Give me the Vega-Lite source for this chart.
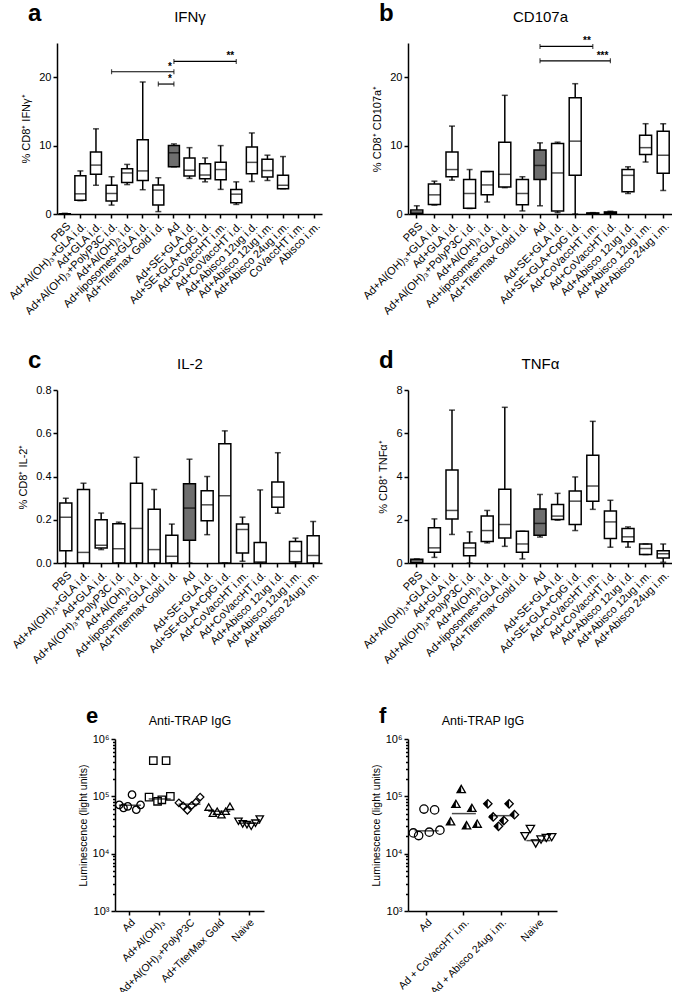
{
"$schema": "https://vega.github.io/schema/vega-lite/v6.json",
"background": "white",
"padding": {"left": 6, "top": 2, "right": 0, "bottom": 0},
"config": {
 "font": "Liberation Sans",
 "view": {"stroke": null},
 "axis": {"domainColor": "black", "domainWidth": 1.5, "tickColor": "black", "tickWidth": 1.5, "tickSize": 4, "labelColor": "black", "titleColor": "black", "labelFont": "Liberation Sans", "titleFont": "Liberation Sans", "grid": false, "labelFontSize": 11, "titleFontSize": 11, "titleFontWeight": "normal", "labelPadding": 2},
 "title": {"font": "Liberation Sans", "fontWeight": "bold", "fontSize": 24, "color": "black", "anchor": "start", "frame": "group", "dx": -29, "offset": -17}
},
"datasets": {
 "a": [
  {"cat": "PBS", "min": 0, "q1": 0, "median": 0, "q3": 0.05, "max": 0.1},
  {"cat": "Ad+Al(OH)₃+GLA i.d.", "min": 1.95, "q1": 2.0, "median": 2.95, "q3": 5.6, "max": 6.3},
  {"cat": "Ad+GLA i.d.", "min": 4.2, "q1": 5.8, "median": 7.15, "q3": 9.05, "max": 12.45},
  {"cat": "Ad+Al(OH)₃+PolyP3C i.d.", "min": 1.3, "q1": 1.9, "median": 3.0, "q3": 4.2, "max": 5.45},
  {"cat": "Ad+Al(OH)₃ i.d.", "min": 4.3, "q1": 4.6, "median": 6.0, "q3": 6.6, "max": 7.25},
  {"cat": "Ad+liposomes+GLA i.d.", "min": 3.55, "q1": 4.9, "median": 6.3, "q3": 10.85, "max": 19.3},
  {"cat": "Ad+Titermax Gold i.d.", "min": 0.35, "q1": 1.3, "median": 3.5, "q3": 4.25, "max": 5.3},
  {"cat": "Ad", "min": 6.9, "q1": 6.9, "median": 8.95, "q3": 10.0, "max": 10.25},
  {"cat": "Ad+SE+GLA i.d.", "min": 5.2, "q1": 5.55, "median": 6.4, "q3": 8.2, "max": 9.7},
  {"cat": "Ad+SE+GLA+CpG i.d.", "min": 4.7, "q1": 5.15, "median": 5.7, "q3": 7.35, "max": 8.2},
  {"cat": "Ad+CoVaccHT i.m.", "min": 3.6, "q1": 5.0, "median": 6.5, "q3": 7.55, "max": 10.0},
  {"cat": "Ad+CoVaccHT i.d.", "min": 1.4, "q1": 1.65, "median": 2.9, "q3": 3.6, "max": 4.7},
  {"cat": "Ad+Abisco 12ug i.d.", "min": 4.75, "q1": 5.9, "median": 7.55, "q3": 9.8, "max": 11.85},
  {"cat": "Ad+Abisco 12ug i.m.", "min": 4.9, "q1": 5.4, "median": 6.35, "q3": 8.0, "max": 8.6},
  {"cat": "Ad+Abisco 24ug i.m.", "min": 3.7, "q1": 3.7, "median": 4.2, "q3": 5.65, "max": 8.4}
 ],
 "sig_a": [
  {"from": "Ad+Al(OH)₃+PolyP3C i.d.", "to": "Ad", "y": 20.8, "s": "*"},
  {"from": "Ad+Titermax Gold i.d.", "to": "Ad", "y": 19.0, "s": "*"},
  {"from": "Ad", "to": "Ad+CoVaccHT i.d.", "y": 22.3, "s": "**"}
 ],
 "b": [
  {"cat": "PBS", "min": 0, "q1": 0.1, "median": 0.3, "q3": 0.6, "max": 1.2},
  {"cat": "Ad+Al(OH)₃+GLA i.d.", "min": 1.3, "q1": 1.4, "median": 2.8, "q3": 4.4, "max": 4.8},
  {"cat": "Ad+GLA i.d.", "min": 4.95, "q1": 5.45, "median": 6.5, "q3": 9.05, "max": 12.85},
  {"cat": "Ad+Al(OH)₃+PolyP3C i.d.", "min": 0.8, "q1": 0.85, "median": 3.0, "q3": 5.05, "max": 6.5},
  {"cat": "Ad+Al(OH)₃ i.d.", "min": 1.75, "q1": 2.8, "median": 4.25, "q3": 6.2, "max": 6.2},
  {"cat": "Ad+liposomes+GLA i.d.", "min": 3.85, "q1": 3.95, "median": 5.8, "q3": 10.5, "max": 17.35},
  {"cat": "Ad+Titermax Gold i.d.", "min": 0.45, "q1": 1.35, "median": 3.0, "q3": 5.05, "max": 5.45},
  {"cat": "Ad", "min": 1.2, "q1": 5.05, "median": 7.1, "q3": 9.35, "max": 10.4},
  {"cat": "Ad+SE+GLA i.d.", "min": 0.2, "q1": 0.45, "median": 6.0, "q3": 10.3, "max": 10.5},
  {"cat": "Ad+SE+GLA+CpG i.d.", "min": 0, "q1": 5.65, "median": 10.65, "q3": 17.0, "max": 19.05},
  {"cat": "Ad+CoVaccHT i.m.", "min": 0, "q1": 0.05, "median": 0.1, "q3": 0.15, "max": 0.2},
  {"cat": "Ad+CoVaccHT i.d.", "min": 0, "q1": 0.1, "median": 0.2, "q3": 0.3, "max": 0.4},
  {"cat": "Ad+Abisco 12ug i.d.", "min": 3.0, "q1": 3.25, "median": 5.65, "q3": 6.5, "max": 6.9},
  {"cat": "Ad+Abisco 12ug i.m.", "min": 7.6, "q1": 8.7, "median": 9.7, "q3": 11.5, "max": 13.2},
  {"cat": "Ad+Abisco 24ug i.m.", "min": 3.45, "q1": 5.95, "median": 8.6, "q3": 12.1, "max": 13.2}
 ],
 "sig_b": [
  {"from": "Ad", "to": "Ad+CoVaccHT i.m.", "y": 24.5, "s": "**"},
  {"from": "Ad", "to": "Ad+CoVaccHT i.d.", "y": 22.4, "s": "***"}
 ],
 "c": [
  {"cat": "PBS", "min": 0, "q1": 0.057, "median": 0.211, "q3": 0.277, "max": 0.30},
  {"cat": "Ad+Al(OH)₃+GLA i.d.", "min": 0, "q1": 0, "median": 0.049, "q3": 0.34, "max": 0.369},
  {"cat": "Ad+GLA i.d.", "min": 0.062, "q1": 0.069, "median": 0.082, "q3": 0.2, "max": 0.231},
  {"cat": "Ad+Al(OH)₃+PolyP3C i.d.", "min": 0, "q1": 0, "median": 0.066, "q3": 0.182, "max": 0.189},
  {"cat": "Ad+Al(OH)₃ i.d.", "min": 0, "q1": 0, "median": 0.16, "q3": 0.369, "max": 0.489},
  {"cat": "Ad+liposomes+GLA i.d.", "min": 0, "q1": 0, "median": 0.062, "q3": 0.249, "max": 0.34},
  {"cat": "Ad+Titermax Gold i.d.", "min": 0, "q1": 0, "median": 0.031, "q3": 0.128, "max": 0.18},
  {"cat": "Ad", "min": 0, "q1": 0.105, "median": 0.254, "q3": 0.366, "max": 0.48},
  {"cat": "Ad+SE+GLA i.d.", "min": 0.131, "q1": 0.195, "median": 0.269, "q3": 0.334, "max": 0.40},
  {"cat": "Ad+SE+GLA+CpG i.d.", "min": 0, "q1": 0, "median": 0.311, "q3": 0.551, "max": 0.611},
  {"cat": "Ad+CoVaccHT i.m.", "min": 0.008, "q1": 0.046, "median": 0.155, "q3": 0.18, "max": 0.212},
  {"cat": "Ad+CoVaccHT i.d.", "min": 0, "q1": 0, "median": 0.005, "q3": 0.095, "max": 0.338},
  {"cat": "Ad+Abisco 12ug i.d.", "min": 0.23, "q1": 0.258, "median": 0.305, "q3": 0.374, "max": 0.51},
  {"cat": "Ad+Abisco 12ug i.m.", "min": 0, "q1": 0.005, "median": 0.054, "q3": 0.1, "max": 0.115},
  {"cat": "Ad+Abisco 24ug i.m.", "min": 0, "q1": 0, "median": 0.035, "q3": 0.126, "max": 0.192}
 ],
 "d": [
  {"cat": "PBS", "min": 0, "q1": 0.02, "median": 0.1, "q3": 0.17, "max": 0.19},
  {"cat": "Ad+Al(OH)₃+GLA i.d.", "min": 0.26, "q1": 0.5, "median": 0.7, "q3": 1.63, "max": 2.04},
  {"cat": "Ad+GLA i.d.", "min": 1.32, "q1": 2.04, "median": 2.43, "q3": 4.3, "max": 7.07},
  {"cat": "Ad+Al(OH)₃+PolyP3C i.d.", "min": 0, "q1": 0.34, "median": 0.7, "q3": 0.93, "max": 1.44},
  {"cat": "Ad+Al(OH)₃ i.d.", "min": 0.93, "q1": 1.0, "median": 1.5, "q3": 2.17, "max": 2.43},
  {"cat": "Ad+liposomes+GLA i.d.", "min": 0.77, "q1": 1.16, "median": 1.78, "q3": 3.41, "max": 7.2},
  {"cat": "Ad+Titermax Gold i.d.", "min": 0.19, "q1": 0.5, "median": 0.88, "q3": 1.47, "max": 1.47},
  {"cat": "Ad", "min": 1.2, "q1": 1.28, "median": 1.83, "q3": 2.5, "max": 3.17},
  {"cat": "Ad+SE+GLA i.d.", "min": 1.98, "q1": 2.01, "median": 2.17, "q3": 2.71, "max": 3.22},
  {"cat": "Ad+SE+GLA+CpG i.d.", "min": 1.5, "q1": 1.78, "median": 2.86, "q3": 3.33, "max": 3.98},
  {"cat": "Ad+CoVaccHT i.m.", "min": 2.48, "q1": 2.86, "median": 3.56, "q3": 4.98, "max": 6.55},
  {"cat": "Ad+CoVaccHT i.d.", "min": 0.73, "q1": 1.13, "median": 1.9, "q3": 2.4, "max": 2.9},
  {"cat": "Ad+Abisco 12ug i.d.", "min": 0.73, "q1": 0.98, "median": 1.21, "q3": 1.6, "max": 1.67},
  {"cat": "Ad+Abisco 12ug i.m.", "min": 0.39, "q1": 0.39, "median": 0.67, "q3": 0.88, "max": 0.88},
  {"cat": "Ad+Abisco 24ug i.m.", "min": 0.03, "q1": 0.23, "median": 0.43, "q3": 0.57, "max": 0.88}
 ],
 "e": [
  {"grp": "Ad", "rep": 1, "v": 71000}, {"grp": "Ad", "rep": 2, "v": 63000}, {"grp": "Ad", "rep": 3, "v": 67000}, {"grp": "Ad", "rep": 4, "v": 107000}, {"grp": "Ad", "rep": 5, "v": 58500}, {"grp": "Ad", "rep": 6, "v": 71000},
  {"grp": "Ad+Al(OH)₃", "rep": 1, "v": 97000}, {"grp": "Ad+Al(OH)₃", "rep": 2, "v": 420000}, {"grp": "Ad+Al(OH)₃", "rep": 3, "v": 82000}, {"grp": "Ad+Al(OH)₃", "rep": 4, "v": 87000}, {"grp": "Ad+Al(OH)₃", "rep": 5, "v": 420000}, {"grp": "Ad+Al(OH)₃", "rep": 6, "v": 100000},
  {"grp": "Ad+Al(OH)₃+PolyP3C", "rep": 1, "v": 77000}, {"grp": "Ad+Al(OH)₃+PolyP3C", "rep": 2, "v": 68000}, {"grp": "Ad+Al(OH)₃+PolyP3C", "rep": 3, "v": 57000}, {"grp": "Ad+Al(OH)₃+PolyP3C", "rep": 4, "v": 69000}, {"grp": "Ad+Al(OH)₃+PolyP3C", "rep": 5, "v": 79000}, {"grp": "Ad+Al(OH)₃+PolyP3C", "rep": 6, "v": 97000},
  {"grp": "Ad+TiterMax Gold", "rep": 1, "v": 65000}, {"grp": "Ad+TiterMax Gold", "rep": 2, "v": 51000}, {"grp": "Ad+TiterMax Gold", "rep": 3, "v": 55000}, {"grp": "Ad+TiterMax Gold", "rep": 4, "v": 48000}, {"grp": "Ad+TiterMax Gold", "rep": 5, "v": 55000}, {"grp": "Ad+TiterMax Gold", "rep": 6, "v": 67000},
  {"grp": "Naive", "rep": 1, "v": 36700}, {"grp": "Naive", "rep": 2, "v": 33000}, {"grp": "Naive", "rep": 3, "v": 32000}, {"grp": "Naive", "rep": 4, "v": 30000}, {"grp": "Naive", "rep": 5, "v": 34000}, {"grp": "Naive", "rep": 6, "v": 40000}
 ],
 "e_m": [
  {"grp": "Ad", "v": 70000}, {"grp": "Ad+Al(OH)₃", "v": 90000}, {"grp": "Ad+Al(OH)₃+PolyP3C", "v": 73000}, {"grp": "Ad+TiterMax Gold", "v": 55000}, {"grp": "Naive", "v": 34000}
 ],
 "f": [
  {"grp": "Ad", "rep": 1, "v": 23000}, {"grp": "Ad", "rep": 2, "v": 20700}, {"grp": "Ad", "rep": 3, "v": 60000}, {"grp": "Ad", "rep": 4, "v": 23700}, {"grp": "Ad", "rep": 5, "v": 58000}, {"grp": "Ad", "rep": 6, "v": 25700},
  {"grp": "Ad + CoVaccHT i.m.", "rep": 1, "v": 36700}, {"grp": "Ad + CoVaccHT i.m.", "rep": 2, "v": 74000}, {"grp": "Ad + CoVaccHT i.m.", "rep": 3, "v": 134000}, {"grp": "Ad + CoVaccHT i.m.", "rep": 4, "v": 31300}, {"grp": "Ad + CoVaccHT i.m.", "rep": 5, "v": 63000}, {"grp": "Ad + CoVaccHT i.m.", "rep": 6, "v": 33400},
  {"grp": "Ad + Abisco 24ug i.m.", "rep": 1, "v": 74000}, {"grp": "Ad + Abisco 24ug i.m.", "rep": 2, "v": 43700}, {"grp": "Ad + Abisco 24ug i.m.", "rep": 3, "v": 30000}, {"grp": "Ad + Abisco 24ug i.m.", "rep": 4, "v": 37700}, {"grp": "Ad + Abisco 24ug i.m.", "rep": 5, "v": 74000}, {"grp": "Ad + Abisco 24ug i.m.", "rep": 6, "v": 47900},
  {"grp": "Naive", "rep": 1, "v": 20100}, {"grp": "Naive", "rep": 2, "v": 27000}, {"grp": "Naive", "rep": 3, "v": 15000}, {"grp": "Naive", "rep": 4, "v": 17600}, {"grp": "Naive", "rep": 5, "v": 18800}, {"grp": "Naive", "rep": 6, "v": 19400}
 ],
 "f_m": [
  {"grp": "Ad", "v": 25000}, {"grp": "Ad + CoVaccHT i.m.", "v": 50000}, {"grp": "Ad + Abisco 24ug i.m.", "v": 46000}, {"grp": "Naive", "v": 16900}
 ]
},
"columns": 2,
"center": true,
"bounds": "flush",
"spacing": {"row": 176, "column": 86},
"resolve": {"scale": {"shape": "independent", "xOffset": "independent"}},
"concat": [
   {"width": 265, "height": 171, "title": {"text": "a"},
    "resolve": {"axis": {"x": "independent"}},
    "layer": [
     {"data": {"name": "a"}, "mark": {"type": "rule", "color": "black", "strokeWidth": 1.5}, "encoding": {
       "x": {"field": "cat", "type": "nominal", "sort": null, "scale": {"domain": ["PBS", "Ad+Al(OH)₃+GLA i.d.", "Ad+GLA i.d.", "Ad+Al(OH)₃+PolyP3C i.d.", "Ad+Al(OH)₃ i.d.", "Ad+liposomes+GLA i.d.", "Ad+Titermax Gold i.d.", "Ad", "Ad+SE+GLA i.d.", "Ad+SE+GLA+CpG i.d.", "Ad+CoVaccHT i.m.", "Ad+CoVaccHT i.d.", "Ad+Abisco 12ug i.d.", "Ad+Abisco 12ug i.m.", "Ad+Abisco 24ug i.m.", "CoVaccHT i.m.", "Abisco i.m."], "paddingInner": 0, "paddingOuter": 0}, "axis": {"labelAngle": -45, "title": null}},
       "y": {"field": "min", "type": "quantitative", "scale": {"domain": [0, 25], "nice": false}, "axis": {"values": [0, 5, 10, 15, 20, 25], "title": "% CD8⁺ IFNγ⁺", "titlePadding": 7}}, "y2": {"field": "max"}}},
     {"data": {"name": "a"}, "mark": {"type": "bar", "size": 11, "stroke": "black", "strokeWidth": 1.5}, "encoding": {"x": {"field": "cat", "type": "nominal", "axis": null}, "y": {"field": "q1", "type": "quantitative", "title": "% CD8⁺ IFNγ⁺"}, "y2": {"field": "q3"}, "fill": {"condition": {"test": "datum.cat === 'Ad'", "value": "#6e6e6e"}, "value": "white"}}},
     {"data": {"name": "a"}, "mark": {"type": "tick", "size": 11, "thickness": 1.5, "color": "black"}, "encoding": {"x": {"field": "cat", "type": "nominal", "axis": {"orient": "top", "title": "IFNγ", "labels": false, "ticks": false, "domain": false, "titleFontSize": 15, "titlePadding": 19}}, "y": {"field": "median", "type": "quantitative", "title": "% CD8⁺ IFNγ⁺"}}},
     {"data": {"name": "a"}, "mark": {"type": "tick", "size": 6, "thickness": 1.5, "color": "black"}, "encoding": {"x": {"field": "cat", "type": "nominal", "axis": null}, "y": {"field": "min", "type": "quantitative", "title": "% CD8⁺ IFNγ⁺"}}},
     {"data": {"name": "a"}, "mark": {"type": "tick", "size": 6, "thickness": 1.5, "color": "black"}, "encoding": {"x": {"field": "cat", "type": "nominal", "axis": null}, "y": {"field": "max", "type": "quantitative", "title": "% CD8⁺ IFNγ⁺"}}},
     {"data": {"name": "sig_a"}, "mark": {"type": "rule", "color": "black", "strokeWidth": 1.2}, "encoding": {"x": {"field": "from", "type": "nominal", "axis": null}, "x2": {"field": "to"}, "y": {"field": "y", "type": "quantitative", "title": "% CD8⁺ IFNγ⁺"}}},
     {"data": {"name": "sig_a"}, "mark": {"type": "tick", "orient": "vertical", "size": 5, "thickness": 1.2, "color": "black"}, "encoding": {"x": {"field": "from", "type": "nominal", "axis": null}, "y": {"field": "y", "type": "quantitative", "title": "% CD8⁺ IFNγ⁺"}}},
     {"data": {"name": "sig_a"}, "mark": {"type": "tick", "orient": "vertical", "size": 5, "thickness": 1.2, "color": "black"}, "encoding": {"x": {"field": "to", "type": "nominal", "axis": null}, "y": {"field": "y", "type": "quantitative", "title": "% CD8⁺ IFNγ⁺"}}},
     {"data": {"name": "sig_a"}, "mark": {"type": "text", "align": "right", "baseline": "bottom", "dx": -2, "dy": 0, "fontSize": 10, "fontWeight": "bold", "fill": "black"}, "encoding": {"x": {"field": "to", "type": "nominal", "axis": null}, "y": {"field": "y", "type": "quantitative", "title": "% CD8⁺ IFNγ⁺"}, "text": {"field": "s"}, "color": {"value": "black"}}}
    ]},
   {"width": 264, "height": 171, "title": {"text": "b"},
    "resolve": {"axis": {"x": "independent"}},
    "layer": [
     {"data": {"name": "b"}, "mark": {"type": "rule", "color": "black", "strokeWidth": 1.5}, "encoding": {
       "x": {"field": "cat", "type": "nominal", "sort": null, "scale": {"domain": ["PBS", "Ad+Al(OH)₃+GLA i.d.", "Ad+GLA i.d.", "Ad+Al(OH)₃+PolyP3C i.d.", "Ad+Al(OH)₃ i.d.", "Ad+liposomes+GLA i.d.", "Ad+Titermax Gold i.d.", "Ad", "Ad+SE+GLA i.d.", "Ad+SE+GLA+CpG i.d.", "Ad+CoVaccHT i.m.", "Ad+CoVaccHT i.d.", "Ad+Abisco 12ug i.d.", "Ad+Abisco 12ug i.m.", "Ad+Abisco 24ug i.m."], "paddingInner": 0, "paddingOuter": 0}, "axis": {"labelAngle": -45, "title": null}},
       "y": {"field": "min", "type": "quantitative", "scale": {"domain": [0, 25], "nice": false}, "axis": {"values": [0, 5, 10, 15, 20, 25], "title": "% CD8⁺ CD107a⁺", "titlePadding": 7}}, "y2": {"field": "max"}}},
     {"data": {"name": "b"}, "mark": {"type": "bar", "size": 12, "stroke": "black", "strokeWidth": 1.5}, "encoding": {"x": {"field": "cat", "type": "nominal", "axis": null}, "y": {"field": "q1", "type": "quantitative", "title": "% CD8⁺ CD107a⁺"}, "y2": {"field": "q3"}, "fill": {"condition": {"test": "datum.cat === 'Ad'", "value": "#6e6e6e"}, "value": "white"}}},
     {"data": {"name": "b"}, "mark": {"type": "tick", "size": 12, "thickness": 1.5, "color": "black"}, "encoding": {"x": {"field": "cat", "type": "nominal", "axis": {"orient": "top", "title": "CD107a", "labels": false, "ticks": false, "domain": false, "titleFontSize": 15, "titlePadding": 19}}, "y": {"field": "median", "type": "quantitative", "title": "% CD8⁺ CD107a⁺"}}},
     {"data": {"name": "b"}, "mark": {"type": "tick", "size": 6, "thickness": 1.5, "color": "black"}, "encoding": {"x": {"field": "cat", "type": "nominal", "axis": null}, "y": {"field": "min", "type": "quantitative", "title": "% CD8⁺ CD107a⁺"}}},
     {"data": {"name": "b"}, "mark": {"type": "tick", "size": 6, "thickness": 1.5, "color": "black"}, "encoding": {"x": {"field": "cat", "type": "nominal", "axis": null}, "y": {"field": "max", "type": "quantitative", "title": "% CD8⁺ CD107a⁺"}}},
     {"data": {"name": "sig_b"}, "mark": {"type": "rule", "color": "black", "strokeWidth": 1.2}, "encoding": {"x": {"field": "from", "type": "nominal", "axis": null}, "x2": {"field": "to"}, "y": {"field": "y", "type": "quantitative", "title": "% CD8⁺ CD107a⁺"}}},
     {"data": {"name": "sig_b"}, "mark": {"type": "tick", "orient": "vertical", "size": 5, "thickness": 1.2, "color": "black"}, "encoding": {"x": {"field": "from", "type": "nominal", "axis": null}, "y": {"field": "y", "type": "quantitative", "title": "% CD8⁺ CD107a⁺"}}},
     {"data": {"name": "sig_b"}, "mark": {"type": "tick", "orient": "vertical", "size": 5, "thickness": 1.2, "color": "black"}, "encoding": {"x": {"field": "to", "type": "nominal", "axis": null}, "y": {"field": "y", "type": "quantitative", "title": "% CD8⁺ CD107a⁺"}}},
     {"data": {"name": "sig_b"}, "mark": {"type": "text", "align": "right", "baseline": "bottom", "dx": -2, "dy": 0, "fontSize": 10, "fontWeight": "bold", "fill": "black"}, "encoding": {"x": {"field": "to", "type": "nominal", "axis": null}, "y": {"field": "y", "type": "quantitative", "title": "% CD8⁺ CD107a⁺"}, "text": {"field": "s"}, "color": {"value": "black"}}}
    ]},
   {"width": 265, "height": 173, "title": {"text": "c"},
    "data": {"name": "c"},
    "resolve": {"axis": {"x": "independent"}},
    "layer": [
     {"mark": {"type": "rule", "color": "black", "strokeWidth": 1.5}, "encoding": {
       "x": {"field": "cat", "type": "nominal", "sort": null, "scale": {"domain": ["PBS", "Ad+Al(OH)₃+GLA i.d.", "Ad+GLA i.d.", "Ad+Al(OH)₃+PolyP3C i.d.", "Ad+Al(OH)₃ i.d.", "Ad+liposomes+GLA i.d.", "Ad+Titermax Gold i.d.", "Ad", "Ad+SE+GLA i.d.", "Ad+SE+GLA+CpG i.d.", "Ad+CoVaccHT i.m.", "Ad+CoVaccHT i.d.", "Ad+Abisco 12ug i.d.", "Ad+Abisco 12ug i.m.", "Ad+Abisco 24ug i.m."], "paddingInner": 0, "paddingOuter": 0}, "axis": {"labelAngle": -45, "title": null}},
       "y": {"field": "min", "type": "quantitative", "scale": {"domain": [0, 0.8], "nice": false}, "axis": {"values": [0, 0.2, 0.4, 0.6, 0.8], "format": ".1f", "title": "% CD8⁺ IL-2⁺", "titlePadding": 7}}, "y2": {"field": "max"}}},
     {"mark": {"type": "bar", "size": 12, "stroke": "black", "strokeWidth": 1.5}, "encoding": {"x": {"field": "cat", "type": "nominal", "axis": null}, "y": {"field": "q1", "type": "quantitative", "title": "% CD8⁺ IL-2⁺"}, "y2": {"field": "q3"}, "fill": {"condition": {"test": "datum.cat === 'Ad'", "value": "#6e6e6e"}, "value": "white"}}},
     {"mark": {"type": "tick", "size": 12, "thickness": 1.5, "color": "black"}, "encoding": {"x": {"field": "cat", "type": "nominal", "axis": {"orient": "top", "title": "IL-2", "labels": false, "ticks": false, "domain": false, "titleFontSize": 15, "titlePadding": 19}}, "y": {"field": "median", "type": "quantitative", "title": "% CD8⁺ IL-2⁺"}}},
     {"mark": {"type": "tick", "size": 6, "thickness": 1.5, "color": "black"}, "encoding": {"x": {"field": "cat", "type": "nominal", "axis": null}, "y": {"field": "min", "type": "quantitative", "title": "% CD8⁺ IL-2⁺"}}},
     {"mark": {"type": "tick", "size": 6, "thickness": 1.5, "color": "black"}, "encoding": {"x": {"field": "cat", "type": "nominal", "axis": null}, "y": {"field": "max", "type": "quantitative", "title": "% CD8⁺ IL-2⁺"}}}
    ]},
   {"width": 264, "height": 173, "title": {"text": "d"},
    "data": {"name": "d"},
    "resolve": {"axis": {"x": "independent"}},
    "layer": [
     {"mark": {"type": "rule", "color": "black", "strokeWidth": 1.5}, "encoding": {
       "x": {"field": "cat", "type": "nominal", "sort": null, "scale": {"domain": ["PBS", "Ad+Al(OH)₃+GLA i.d.", "Ad+GLA i.d.", "Ad+Al(OH)₃+PolyP3C i.d.", "Ad+Al(OH)₃ i.d.", "Ad+liposomes+GLA i.d.", "Ad+Titermax Gold i.d.", "Ad", "Ad+SE+GLA i.d.", "Ad+SE+GLA+CpG i.d.", "Ad+CoVaccHT i.m.", "Ad+CoVaccHT i.d.", "Ad+Abisco 12ug i.d.", "Ad+Abisco 12ug i.m.", "Ad+Abisco 24ug i.m."], "paddingInner": 0, "paddingOuter": 0}, "axis": {"labelAngle": -45, "title": null}},
       "y": {"field": "min", "type": "quantitative", "scale": {"domain": [0, 8], "nice": false}, "axis": {"values": [0, 1, 2, 3, 4, 5, 6, 7, 8], "title": "% CD8⁺ TNFα⁺", "titlePadding": 7}}, "y2": {"field": "max"}}},
     {"mark": {"type": "bar", "size": 12, "stroke": "black", "strokeWidth": 1.5}, "encoding": {"x": {"field": "cat", "type": "nominal", "axis": null}, "y": {"field": "q1", "type": "quantitative", "title": "% CD8⁺ TNFα⁺"}, "y2": {"field": "q3"}, "fill": {"condition": {"test": "datum.cat === 'Ad'", "value": "#6e6e6e"}, "value": "white"}}},
     {"mark": {"type": "tick", "size": 12, "thickness": 1.5, "color": "black"}, "encoding": {"x": {"field": "cat", "type": "nominal", "axis": {"orient": "top", "title": "TNFα", "labels": false, "ticks": false, "domain": false, "titleFontSize": 15, "titlePadding": 19}}, "y": {"field": "median", "type": "quantitative", "title": "% CD8⁺ TNFα⁺"}}},
     {"mark": {"type": "tick", "size": 6, "thickness": 1.5, "color": "black"}, "encoding": {"x": {"field": "cat", "type": "nominal", "axis": null}, "y": {"field": "min", "type": "quantitative", "title": "% CD8⁺ TNFα⁺"}}},
     {"mark": {"type": "tick", "size": 6, "thickness": 1.5, "color": "black"}, "encoding": {"x": {"field": "cat", "type": "nominal", "axis": null}, "y": {"field": "max", "type": "quantitative", "title": "% CD8⁺ TNFα⁺"}}}
    ]},
  {"width": 149, "height": 172, "title": {"text": "e", "fontSize": 22, "offset": -14},
   "resolve": {"axis": {"x": "independent"}},
   "layer": [
    {"mark": {"type": "rule", "color": "#555555", "strokeWidth": 1, "strokeDash": [2, 2]}, "encoding": {"y": {"datum": 75500, "type": "quantitative", "scale": {"type": "log", "domain": [1000, 1000000], "nice": false}, "axis": {"title": "Luminescence (light units)", "titleFontSize": 10.5, "titlePadding": 4, "values": [1000, 2000, 3000, 4000, 5000, 6000, 7000, 8000, 9000, 10000, 20000, 30000, 40000, 50000, 60000, 70000, 80000, 90000, 100000, 200000, 300000, 400000, 500000, 600000, 700000, 800000, 900000, 1000000], "labelExpr": "datum.value == 1000 ? '10³' : datum.value == 10000 ? '10⁴' : datum.value == 100000 ? '10⁵' : datum.value == 1000000 ? '10⁶' : ''", "tickSize": {"condition": {"test": "datum.value == 1000 || datum.value == 10000 || datum.value == 100000 || datum.value == 1000000", "value": 4}, "value": 2.5}}}}},
    {"data": {"name": "e"}, "mark": {"type": "point", "filled": false, "color": "black", "strokeWidth": 1.3, "size": 55, "opacity": 1}, "encoding": {
      "x": {"field": "grp", "type": "nominal", "sort": null, "scale": {"domain": ["Ad", "Ad+Al(OH)₃", "Ad+Al(OH)₃+PolyP3C", "Ad+TiterMax Gold", "Naive"], "paddingInner": 0, "paddingOuter": 0}, "axis": {"labelAngle": -45, "title": null, "labelFontSize": 10.5}},
      "xOffset": {"field": "rep", "type": "nominal", "scale": {"paddingOuter": 3.2, "paddingInner": 0}},
      "y": {"field": "v", "type": "quantitative", "title": "Luminescence (light units)"},
      "shape": {"field": "grp", "type": "nominal", "scale": {"domain": ["Ad", "Ad+Al(OH)₃", "Ad+Al(OH)₃+PolyP3C", "Ad+TiterMax Gold", "Naive"], "range": ["circle", "square", "diamond", "triangle-up", "triangle-down"]}, "legend": null}}},
    {"data": {"name": "e_m"}, "mark": {"type": "tick", "size": 22, "thickness": 1.5, "color": "black"}, "encoding": {"x": {"field": "grp", "type": "nominal", "axis": {"orient": "top", "title": "Anti-TRAP IgG", "labels": false, "ticks": false, "domain": false, "titleFontSize": 12.5, "titlePadding": 12}}, "y": {"field": "v", "type": "quantitative", "title": "Luminescence (light units)"}}}
   ]},
  {"width": 149, "height": 172, "title": {"text": "f", "fontSize": 22, "offset": -14},
   "resolve": {"axis": {"x": "independent"}},
   "layer": [
    {"mark": {"type": "rule", "color": "#555555", "strokeWidth": 1, "strokeDash": [2, 2]}, "encoding": {"y": {"datum": 37700, "type": "quantitative", "scale": {"type": "log", "domain": [1000, 1000000], "nice": false}, "axis": {"title": "Luminescence (light units)", "titleFontSize": 10.5, "titlePadding": 4, "values": [1000, 2000, 3000, 4000, 5000, 6000, 7000, 8000, 9000, 10000, 20000, 30000, 40000, 50000, 60000, 70000, 80000, 90000, 100000, 200000, 300000, 400000, 500000, 600000, 700000, 800000, 900000, 1000000], "labelExpr": "datum.value == 1000 ? '10³' : datum.value == 10000 ? '10⁴' : datum.value == 100000 ? '10⁵' : datum.value == 1000000 ? '10⁶' : ''", "tickSize": {"condition": {"test": "datum.value == 1000 || datum.value == 10000 || datum.value == 100000 || datum.value == 1000000", "value": 4}, "value": 2.5}}}}},
    {"data": {"name": "f"}, "transform": [{"filter": "datum.grp === 'Ad + CoVaccHT i.m.'"}], "mark": {"type": "point", "filled": true, "fill": "black", "strokeWidth": 0, "size": 70, "opacity": 1, "shape": "M0,-0.866L-1,0.866L0,0.866Z"}, "encoding": {
      "x": {"field": "grp", "type": "nominal", "sort": null, "scale": {"domain": ["Ad", "Ad + CoVaccHT i.m.", "Ad + Abisco 24ug i.m.", "Naive"], "paddingInner": 0, "paddingOuter": 0}, "axis": null},
      "xOffset": {"field": "rep", "type": "nominal", "scale": {"paddingOuter": 4.2, "paddingInner": 0}}, "y": {"field": "v", "type": "quantitative", "title": "Luminescence (light units)"}}},
    {"data": {"name": "f"}, "transform": [{"filter": "datum.grp === 'Ad + Abisco 24ug i.m.'"}], "mark": {"type": "point", "filled": true, "fill": "black", "strokeWidth": 0, "size": 70, "opacity": 1, "shape": "M0,-1L-1,0L0,1Z"}, "encoding": {"x": {"field": "grp", "type": "nominal", "axis": null}, "xOffset": {"field": "rep", "type": "nominal"}, "y": {"field": "v", "type": "quantitative", "title": "Luminescence (light units)"}}},
    {"data": {"name": "f"}, "mark": {"type": "point", "filled": false, "color": "black", "strokeWidth": 1.3, "size": 70, "opacity": 1}, "encoding": {
      "x": {"field": "grp", "type": "nominal", "axis": {"labelAngle": -45, "title": null, "labelFontSize": 10.5}},
      "xOffset": {"field": "rep", "type": "nominal"}, "y": {"field": "v", "type": "quantitative", "title": "Luminescence (light units)"},
      "shape": {"field": "grp", "type": "nominal", "scale": {"domain": ["Ad", "Ad + CoVaccHT i.m.", "Ad + Abisco 24ug i.m.", "Naive"], "range": ["circle", "triangle-up", "diamond", "triangle-down"]}, "legend": null}}},
    {"data": {"name": "f_m"}, "mark": {"type": "tick", "size": 24, "thickness": 1.5, "color": "black"}, "encoding": {"x": {"field": "grp", "type": "nominal", "axis": {"orient": "top", "title": "Anti-TRAP IgG", "labels": false, "ticks": false, "domain": false, "titleFontSize": 12.5, "titlePadding": 12}}, "y": {"field": "v", "type": "quantitative", "title": "Luminescence (light units)"}}}
   ]}
]
}
